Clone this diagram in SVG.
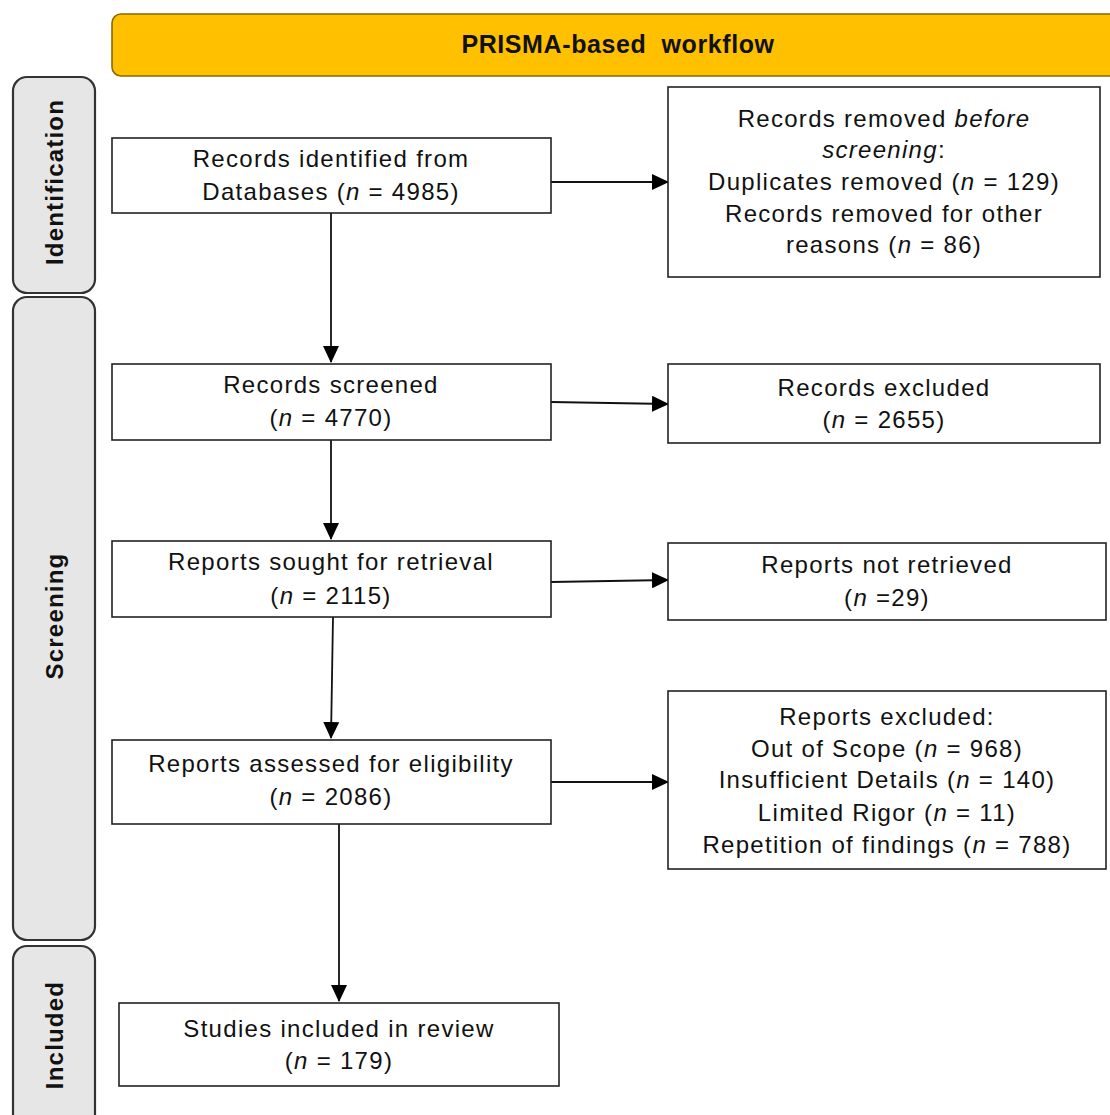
<svg xmlns="http://www.w3.org/2000/svg" width="1110" height="1115" viewBox="0 0 1110 1115">
<defs>
<style>
.box{fill:#fff;stroke:#222;stroke-width:1.6}
.side{fill:#e6e6e6;stroke:#333;stroke-width:2.2}
.t{font-family:"Liberation Sans",Arial,sans-serif;font-size:24px;letter-spacing:1.3px;fill:#111;text-anchor:middle}
.sl{font-family:"Liberation Sans",Arial,sans-serif;font-size:24px;letter-spacing:1.2px;font-weight:bold;fill:#111;text-anchor:middle}
.hd{font-family:"Liberation Sans",Arial,sans-serif;font-size:25px;letter-spacing:0.6px;font-weight:bold;fill:#111;text-anchor:middle;white-space:pre}
.c{stroke:#111;stroke-width:1.8;fill:none;marker-end:url(#ah)}
</style>
<marker id="ah" markerUnits="userSpaceOnUse" markerWidth="18" markerHeight="16" refX="16" refY="8" orient="auto">
<path d="M0,0 L17,8 L0,16 Z" fill="#000"/>
</marker>
</defs>
<rect width="1110" height="1115" fill="#fff"/>
<g id="header">
<rect x="112" y="14" width="1010" height="62" rx="9" fill="#ffc000" stroke="#8a6a00" stroke-width="1.6"/>
<text class="hd" x="618" y="53" xml:space="preserve">PRISMA-based  workflow</text>
</g>
<g id="lane-identification">
<rect class="side" x="13" y="77" width="82" height="216" rx="14"/>
<text class="sl" transform="translate(63,182) rotate(-90)">Identification</text>
</g>
<g id="lane-screening">
<rect class="side" x="13" y="297" width="82" height="643" rx="14"/>
<text class="sl" transform="translate(63,616) rotate(-90)">Screening</text>
</g>
<g id="lane-included">
<rect class="side" x="13" y="946" width="82" height="190" rx="14"/>
<text class="sl" transform="translate(63,1035) rotate(-90)">Included</text>
</g>
<g id="connectors">
<line class="c" x1="331" y1="213" x2="331" y2="362"/>
<line class="c" x1="551" y1="182" x2="668" y2="182"/>
<line class="c" x1="551" y1="402" x2="668" y2="404"/>
<line class="c" x1="331" y1="440" x2="331" y2="539"/>
<line class="c" x1="551" y1="582" x2="668" y2="580"/>
<line class="c" x1="333" y1="617" x2="331" y2="738"/>
<line class="c" x1="551" y1="782" x2="668" y2="782"/>
<line class="c" x1="339" y1="824" x2="339" y2="1001"/>
</g>
<g id="n-identified">
<rect class="box" x="112" y="138" width="439" height="75"/>
<text class="t" x="331" y="167">Records identified from</text>
<text class="t" x="331" y="200">Databases (<tspan font-style="italic">n</tspan> = 4985)</text>
</g>
<g id="n-removed">
<rect class="box" x="668" y="87" width="432" height="190"/>
<text class="t" x="884" y="127">Records removed <tspan font-style="italic">before</tspan></text>
<text class="t" x="884" y="158"><tspan font-style="italic">screening</tspan>:</text>
<text class="t" x="884" y="190">Duplicates removed (<tspan font-style="italic">n</tspan> = 129)</text>
<text class="t" x="884" y="222">Records removed for other</text>
<text class="t" x="884" y="253">reasons (<tspan font-style="italic">n</tspan> = 86)</text>
</g>
<g id="n-screened">
<rect class="box" x="112" y="364" width="439" height="76"/>
<text class="t" x="331" y="393">Records screened</text>
<text class="t" x="331" y="426">(<tspan font-style="italic">n</tspan> = 4770)</text>
</g>
<g id="n-excluded">
<rect class="box" x="668" y="364" width="432" height="79"/>
<text class="t" x="884" y="396">Records excluded</text>
<text class="t" x="884" y="428">(<tspan font-style="italic">n</tspan> = 2655)</text>
</g>
<g id="n-sought">
<rect class="box" x="112" y="541" width="439" height="76"/>
<text class="t" x="331" y="570">Reports sought for retrieval</text>
<text class="t" x="331" y="604">(<tspan font-style="italic">n</tspan> = 2115)</text>
</g>
<g id="n-notretrieved">
<rect class="box" x="668" y="543" width="438" height="77"/>
<text class="t" x="887" y="573">Reports not retrieved</text>
<text class="t" x="887" y="606">(<tspan font-style="italic">n</tspan> =29)</text>
</g>
<g id="n-assessed">
<rect class="box" x="112" y="740" width="439" height="84"/>
<text class="t" x="331" y="772">Reports assessed for eligibility</text>
<text class="t" x="331" y="805">(<tspan font-style="italic">n</tspan> = 2086)</text>
</g>
<g id="n-reportsexcluded">
<rect class="box" x="668" y="691" width="438" height="178"/>
<text class="t" x="887" y="725">Reports excluded:</text>
<text class="t" x="887" y="757">Out of Scope (<tspan font-style="italic">n</tspan> = 968)</text>
<text class="t" x="887" y="788">Insufficient Details (<tspan font-style="italic">n</tspan> = 140)</text>
<text class="t" x="887" y="821">Limited Rigor (<tspan font-style="italic">n</tspan> = 11)</text>
<text class="t" x="887" y="853">Repetition of findings (<tspan font-style="italic">n</tspan> = 788)</text>
</g>
<g id="n-included">
<rect class="box" x="119" y="1003" width="440" height="83"/>
<text class="t" x="339" y="1037">Studies included in review</text>
<text class="t" x="339" y="1069">(<tspan font-style="italic">n</tspan> = 179)</text>
</g>
</svg>
